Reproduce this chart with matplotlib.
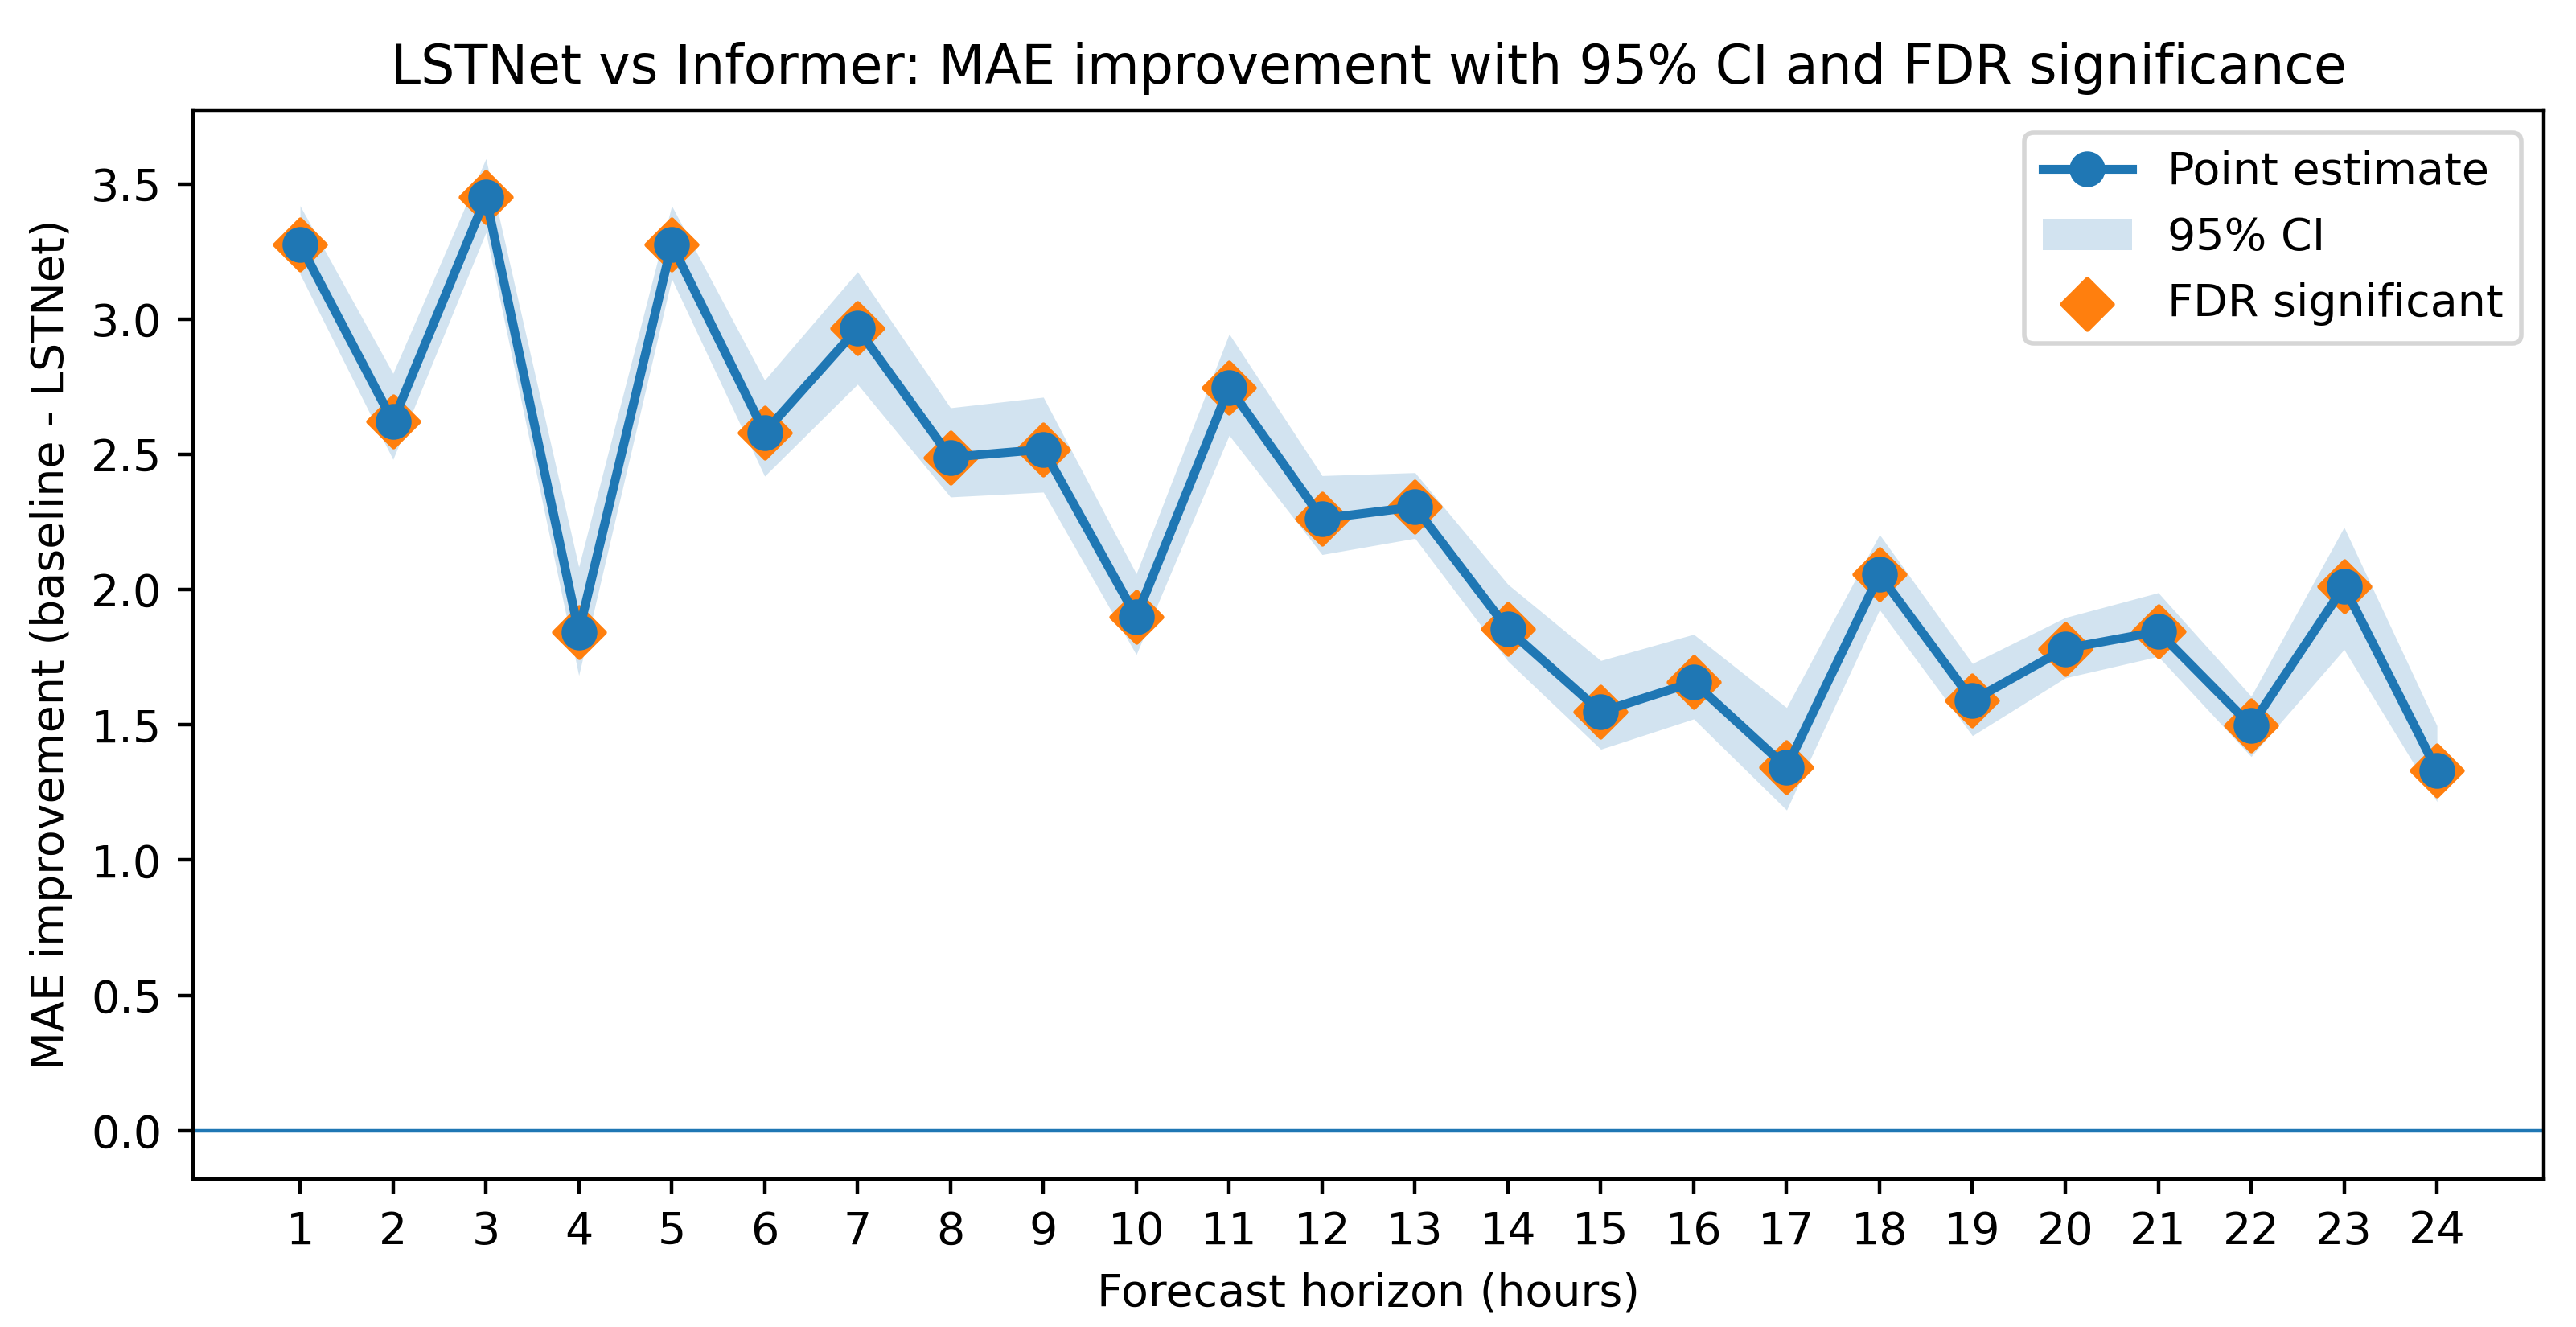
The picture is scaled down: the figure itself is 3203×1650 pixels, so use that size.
import numpy as np
import matplotlib
matplotlib.use("Agg")
import matplotlib.pyplot as plt

# forecast horizons and MAE improvement (baseline - LSTNet)
horizons = list(range(1, 25))
point_est = [3.277, 2.622, 3.451, 1.843, 3.277, 2.582, 2.966, 2.490, 2.519, 1.900,
             2.748, 2.263, 2.306, 1.854, 1.548, 1.658, 1.343, 2.056, 1.590, 1.782,
             1.845, 1.497, 2.012, 1.332]
ci_low = [3.167, 2.482, 3.321, 1.683, 3.150, 2.420, 2.760, 2.343, 2.361, 1.760,
          2.571, 2.130, 2.190, 1.736, 1.410, 1.522, 1.185, 1.926, 1.460, 1.674,
          1.753, 1.383, 1.779, 1.216]
ci_high = [3.420, 2.800, 3.594, 2.084, 3.420, 2.775, 3.176, 2.673, 2.712, 2.059,
           2.946, 2.422, 2.433, 2.020, 1.738, 1.835, 1.564, 2.204, 1.727, 1.897,
           1.989, 1.606, 2.231, 1.497]
significant = [True] * 24

dpi = 400
fig = plt.figure(figsize=(3203 / dpi, 1650 / dpi), dpi=dpi)
ax = fig.add_axes([0.075, 0.1115, 0.9125, 0.8055])

ax.plot(horizons, point_est, marker='o', color='C0', linewidth=2, markersize=7,
        label='Point estimate', zorder=3)
ax.fill_between(horizons, ci_low, ci_high, color='C0', alpha=0.2, linewidth=0,
                label='95% CI')
sig_x = [h for h, s in zip(horizons, significant) if s]
sig_y = [v for v, s in zip(point_est, significant) if s]
ax.scatter(sig_x, sig_y, marker='D', s=64, color='C1', label='FDR significant',
           zorder=2)
ax.axhline(0, color='C0', linewidth=0.8)

ax.set_xticks(horizons)
ax.set_xlabel('Forecast horizon (hours)')
ax.set_ylabel('MAE improvement (baseline - LSTNet)')
ax.set_title('LSTNet vs Informer: MAE improvement with 95% CI and FDR significance')
ax.legend(loc='upper right')

fig.savefig('out.png', dpi=dpi)
